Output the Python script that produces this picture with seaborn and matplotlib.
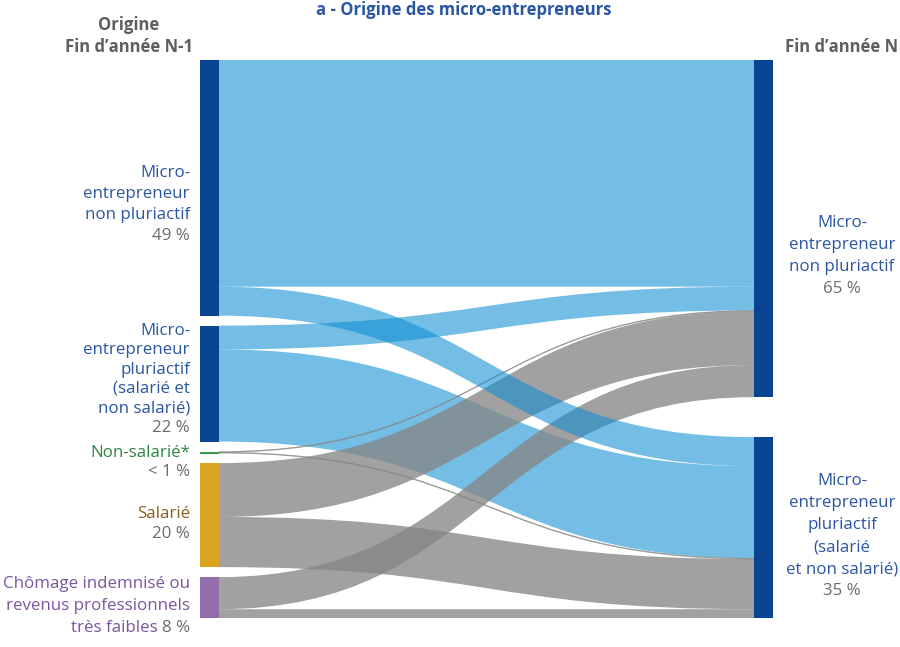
import matplotlib
matplotlib.use("Agg")
import matplotlib.pyplot as plt
import seaborn as sns
import pandas as pd
from matplotlib.path import Path
from matplotlib.patches import PathPatch, Rectangle

# -----------------------------
# 0. Data (shares in % of micro-entrepreneurs at end of year N)
# -----------------------------
left_names = [
    "Micro-\nentrepreneur\nnon pluriactif",
    "Micro-\nentrepreneur\npluriactif\n(salarié et\nnon salarié)",
    "Non-salarié*",
    "Salarié",
    "Chômage indemnisé ou\nrevenus professionnels\ntrès faibles",
]
left_pcts = ["49 %", "22 %", "< 1 %", "20 %", "8 %"]
right_names = [
    "Micro-\nentrepreneur\nnon pluriactif",
    "Micro-\nentrepreneur\npluriactif\n(salarié\net non salarié)",
]
right_pcts = ["65 %", "35 %"]
to_non_pluri = [43.8, 4.6, 0.15, 10.4, 6.2]
to_pluri = [5.6, 17.8, 0.15, 9.7, 1.7]

links = pd.DataFrame({
    "source": list(range(5)) * 2,
    "target": [0] * 5 + [1] * 5,
    "value": to_non_pluri + to_pluri,
})

# -----------------------------
# 1. Styles
# -----------------------------
sns.set_theme(style="white")
plt.rcParams["font.family"] = ["Open Sans", "DejaVu Sans"]

DARK_BLUE = "#084491"
node_colors_left = [DARK_BLUE, DARK_BLUE, "#33A047", "#DAA320", "#946EAC"]
text_colors_left = ["#2A56A3", "#2A56A3", "#2E8540", "#8C5F1E", "#7B55A0"]
TEXT_BLUE = "#2A56A3"
PCT_GRAY = "#6B6B6B"
HEAD_GRAY = "#5E5E5E"
BLUE_FLOW = ("#0F8FD4", 0.58)
GRAY_FLOW = ("#858585", 0.77)

# -----------------------------
# 2. Layout (pixel coordinates)
# -----------------------------
W, H = 900, 647
top, bottom = 60, 618
x_left, x_right, node_w = 200, 754, 19
gap_left = 10

left_tot = links.groupby("source")["value"].sum().reindex(range(5)).values
right_tot = links.groupby("target")["value"].sum().reindex(range(2)).values
scale = (bottom - top - gap_left * 4) / left_tot.sum()

left_y = []
y = top
for v in left_tot:
    left_y.append(y)
    y += v * scale + gap_left
right_y = [top, bottom - right_tot[1] * scale]

fig = plt.figure(figsize=(W / 100, H / 100), dpi=100)
ax = fig.add_axes([0, 0, 1, 1])
ax.set_xlim(0, W)
ax.set_ylim(H, 0)
ax.axis("off")


def ribbon(s_top, s_bot, t_top, t_bot, color, alpha):
    x0, x1 = x_left + node_w, x_right
    xm = (x0 + x1) / 2
    verts = [(x0, s_top), (xm, s_top), (xm, t_top), (x1, t_top),
             (x1, t_bot), (xm, t_bot), (xm, s_bot), (x0, s_bot), (x0, s_top)]
    codes = [Path.MOVETO, Path.CURVE4, Path.CURVE4, Path.CURVE4,
             Path.LINETO, Path.CURVE4, Path.CURVE4, Path.CURVE4, Path.CLOSEPOLY]
    lw = 0.4 if (s_bot - s_top) < 2 else 0
    ax.add_patch(PathPatch(Path(verts, codes), facecolor=color, edgecolor=color,
                           alpha=alpha, lw=lw))


# offsets: at source ordered by target, at target ordered by source
src_off = {}
cur = list(left_y)
for s in range(5):
    for t in range(2):
        v = links[(links.source == s) & (links.target == t)]["value"].iloc[0]
        src_off[(s, t)] = (cur[s], cur[s] + v * scale)
        cur[s] += v * scale
tgt_off = {}
cur = list(right_y)
for t in range(2):
    for s in range(5):
        v = links[(links.source == s) & (links.target == t)]["value"].iloc[0]
        tgt_off[(s, t)] = (cur[t], cur[t] + v * scale)
        cur[t] += v * scale

draw_order = [1, 2, 3, 4, 0]
for s in draw_order:
    color, alpha = BLUE_FLOW if s in (0, 1) else GRAY_FLOW
    for t in range(2):
        a, b = src_off[(s, t)]
        c, d = tgt_off[(s, t)]
        ribbon(a, b, c, d, color, alpha)

# nodes
for i, v in enumerate(left_tot):
    h = max(v * scale, 2)
    ax.add_patch(Rectangle((x_left, left_y[i]), node_w, h, color=node_colors_left[i], lw=0))
for j, v in enumerate(right_tot):
    ax.add_patch(Rectangle((x_right, right_y[j]), node_w, v * scale, color=DARK_BLUE, lw=0))

# -----------------------------
# 3. Texts
# -----------------------------
FS = 12.2
renderer = fig.canvas.get_renderer()

left_first = [173, 331, 453, 514, 584]
left_step = [21, 19.3, 19.5, 20, 22]
x_lab = 190
for i, name in enumerate(left_names):
    lines = name.split("\n")
    step = left_step[i]
    for k, line in enumerate(lines):
        yy = left_first[i] + k * step
        if i == 4 and k == len(lines) - 1:
            pt = ax.text(x_lab, yy, left_pcts[i], ha="right", va="center", fontsize=FS, color=PCT_GRAY)
            bb = pt.get_window_extent(renderer)
            ax.text(x_lab - bb.width - 4, yy, line, ha="right", va="center", fontsize=FS,
                    color=text_colors_left[i])
        else:
            ax.text(x_lab, yy, line, ha="right", va="center", fontsize=FS, color=text_colors_left[i])
    if i != 4:
        ax.text(x_lab, left_first[i] + len(lines) * step, left_pcts[i], ha="right", va="center",
                fontsize=FS, color=PCT_GRAY)

right_first = [223, 481]
rstep = 22
for j, name in enumerate(right_names):
    lines = name.split("\n")
    for k, line in enumerate(lines):
        ax.text(842, right_first[j] + k * rstep, line, ha="center", va="center",
                fontsize=FS, color=TEXT_BLUE)
    ax.text(842, right_first[j] + len(lines) * rstep, right_pcts[j], ha="center", va="center",
            fontsize=FS, color=PCT_GRAY)

ax.text(464, 10, "a - Origine des micro-entrepreneurs", ha="center", va="center",
        fontsize=12, fontweight="bold", color="#2A56A3")
ax.text(129, 25, "Origine", ha="center", va="center", fontsize=12, fontweight="bold", color=HEAD_GRAY)
ax.text(129, 47, "Fin d’année N-1", ha="center", va="center", fontsize=12, fontweight="bold", color=HEAD_GRAY)
ax.text(898, 47, "Fin d’année N", ha="right", va="center", fontsize=12, fontweight="bold", color=HEAD_GRAY)

fig.savefig("out.png", dpi=100)
plt.close(fig)
